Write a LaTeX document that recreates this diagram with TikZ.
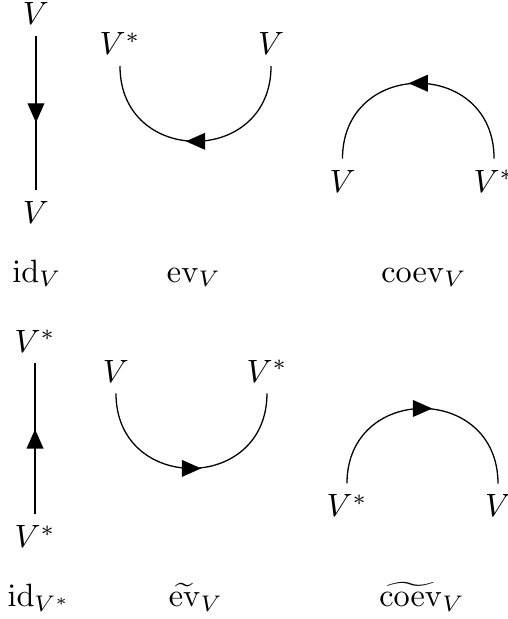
\documentclass[tikz,border=0pt]{standalone}
\usepackage{amsmath,amssymb}
\usepackage{tikz}
\usetikzlibrary{arrows.meta,decorations.markings}
\tikzset{
  strand/.style={line width=0.4pt},
  midarrow/.style={postaction={decorate}, decoration={markings,
    mark=at position 0.5 with {\arrow[xshift=3pt]{Triangle[length=6pt,width=5.2pt]}}}},
  objlabel/.style={anchor=base, inner sep=3.3pt},
  maplabel/.style={anchor=base},
}

\begin{document}
\begin{tikzpicture}[
    cupstrand/.style={strand, midarrow, out=-90, in=-90, looseness=1.7},
    capstrand/.style={strand, midarrow, out=90, in=90, looseness=1.7}]
  \useasboundingbox (0,0) rectangle (5.537,6.747);
  % top row
  \node[objlabel] (idVt) at (0.392,6.475) {$V$};
  \node[objlabel] (idVb) at (0.392,4.316) {$V$};
  \node[objlabel] (evL) at (1.308,6.148) {$V^*$};
  \node[objlabel] (evR) at (2.954,6.148) {$V$};
  \node[objlabel] (coevL) at (3.733,4.654) {$V$};
  \node[objlabel] (coevR) at (5.385,4.654) {$V^*$};
  \draw[strand, midarrow] (idVt) -- (idVb);
  \draw[cupstrand] (evR.south) to (evL.south);
  \draw[capstrand] (coevR.north) to (coevL.north);
  \node[maplabel] (idV) at (0.403,3.673) {$\mathrm{id}_V$};
  \node[maplabel] (evV) at (2.115,3.673) {$\mathrm{ev}_V$};
  \node[maplabel] (coevV) at (4.622,3.673) {$\mathrm{coev}_V$};
  % bottom row
  \node[objlabel] (idVst) at (0.382,2.910) {$V^*$};
  \node[objlabel] (idVsb) at (0.382,0.774) {$V^*$};
  \node[objlabel] (evtL) at (1.264,2.583) {$V$};
  \node[objlabel] (evtR) at (2.910,2.583) {$V^*$};
  \node[objlabel] (coevtL) at (3.782,1.112) {$V^*$};
  \node[objlabel] (coevtR) at (5.428,1.112) {$V$};
  \draw[strand, midarrow] (idVsb) -- (idVst);
  \draw[cupstrand] (evtL.south) to (evtR.south);
  \draw[capstrand] (coevtL.north) to (coevtR.north);
  \node[maplabel] (idVs) at (0.425,0.131) {$\mathrm{id}_{V^*}$};
  \node[maplabel] (evtV) at (2.136,0.131) {$\widetilde{\mathrm{ev}}_V$};
  \node[maplabel] (coevtV) at (4.600,0.131) {$\widetilde{\mathrm{coev}}_V$};
\end{tikzpicture}
\end{document}
